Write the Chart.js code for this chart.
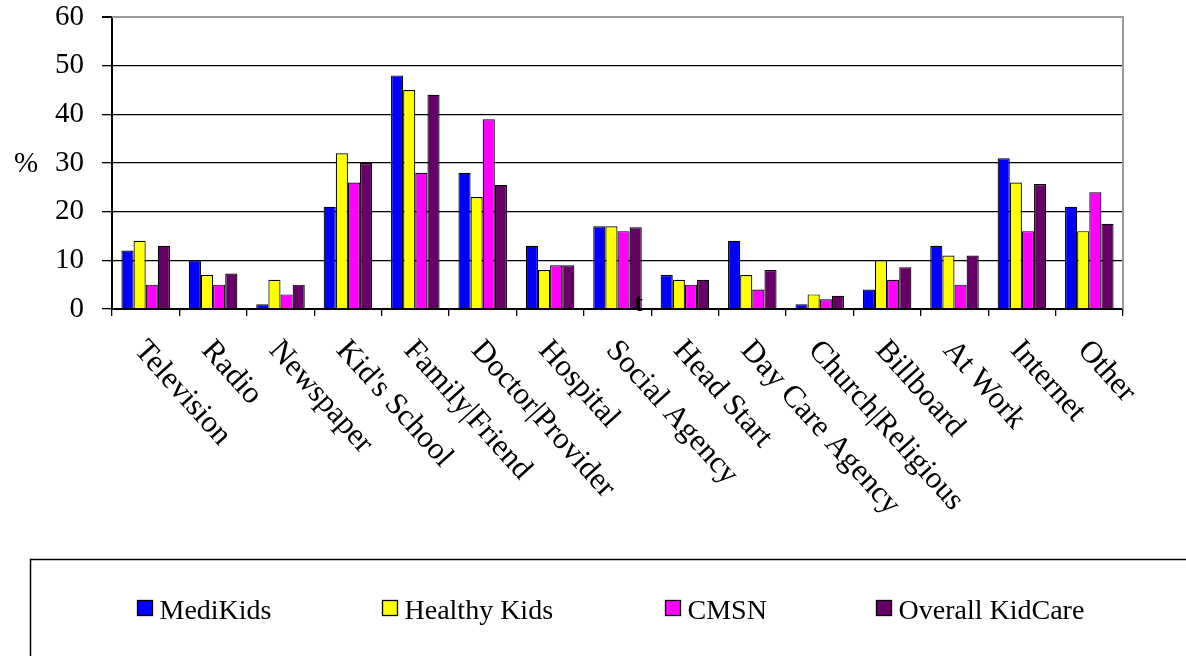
<!DOCTYPE html>
<html>
<head>
<meta charset="utf-8">
<script src="https://cdn.jsdelivr.net/npm/chart.js@4.4.1/dist/chart.umd.min.js"></script>
<style>
  body { margin: 0; background: #fff; }
  #wrap { width: 1186px; height: 656px; }
</style>
</head>
<body>
<div id="wrap"><canvas id="kidcare"></canvas></div>
<script>
const categories = ['Television', 'Radio', 'Newspaper', "Kid's School", 'Family|Friend', 'Doctor|Provider',
    'Hospital', 'Social Agency', 'Head Start', 'Day Care Agency', 'Church|Religious', 'Billboard',
    'At Work', 'Internet', 'Other'];

const mediKids     = [12, 10, 1, 21, 48, 28, 13, 17, 7, 14, 1, 4, 13, 31, 21];
const healthyKids  = [14, 7, 6, 32, 45, 23, 8, 17, 6, 7, 3, 10, 11, 26, 16];
const cmsn         = [5, 5, 3, 26, 28, 39, 9, 16, 5, 4, 2, 6, 5, 16, 24];
const overall      = [13, 7.3, 5, 30, 44, 25.5, 9, 16.8, 6, 8, 2.7, 8.6, 11, 25.7, 17.5];

const yTicks = [0, 10, 20, 30, 40, 50, 60];

const serif = "'Times New Roman', 'Liberation Serif', serif";

// rotated category labels, %, right border, legend box
const decorations = {
    id: 'decorations',
    afterDraw(chart) {
        const ctx = chart.ctx;
        const area = chart.chartArea;
        const xs = chart.scales.x;

        ctx.save();
        // right + top plot border in gray
        ctx.strokeStyle = '#999';
        ctx.lineWidth = 2;
        ctx.beginPath();
        ctx.moveTo(area.left, area.top);
        ctx.lineTo(area.right, area.top);
        ctx.lineTo(area.right, area.bottom);
        ctx.stroke();

        // % axis label
        ctx.fillStyle = '#000';
        ctx.font = '29px ' + serif;
        ctx.textAlign = 'center';
        ctx.textBaseline = 'middle';
        ctx.fillText('%', 26, 164);

        // stray mark near Social Agency
        ctx.font = 'bold 26px ' + serif;
        ctx.textBaseline = 'alphabetic';
        ctx.fillText('t', xs.getPixelForValue(7) + 21, area.bottom + 2);

        // x labels rotated clockwise
        ctx.font = '31px ' + serif;
        ctx.textAlign = 'left';
        ctx.textBaseline = 'top';
        categories.forEach((lab, i) => {
            ctx.save();
            ctx.translate(xs.getPixelForValue(i) + 5, area.bottom + 26);
            ctx.rotate(48 * Math.PI / 180);
            ctx.fillText(lab, 0, 0);
            ctx.restore();
        });

        // legend
        ctx.strokeStyle = '#000';
        ctx.lineWidth = 1.5;
        ctx.strokeRect(30.5, 559.5, 1300, 200);
        const itemX = [137, 382, 665, 876];
        ctx.font = '28px ' + serif;
        ctx.textBaseline = 'alphabetic';
        chart.data.datasets.forEach((ds, i) => {
            const x = itemX[i];
            ctx.fillStyle = ds.backgroundColor;
            ctx.fillRect(x, 600, 15, 15);
            ctx.lineWidth = 1.3;
            ctx.strokeRect(x + 0.5, 600.5, 15, 15);
            ctx.fillStyle = '#000';
            ctx.fillText(ds.label, x + 22.5, 619);
        });
        ctx.restore();
    }
};

const ctx = document.getElementById('kidcare').getContext('2d');
const chart = new Chart(ctx, {
    type: 'bar',
    data: {
        labels: categories,
        datasets: [
            { label: 'MediKids', data: mediKids, backgroundColor: '#0000ff' },
            { label: 'Healthy Kids', data: healthyKids, backgroundColor: '#ffff00' },
            { label: 'CMSN', data: cmsn, backgroundColor: '#ff00ff' },
            { label: 'Overall KidCare', data: overall, backgroundColor: '#660066' }
        ].map(d => Object.assign(d, {
            borderColor: '#000',
            borderWidth: 1.2,
            categoryPercentage: 0.72,
            barPercentage: 1
        }))
    },
    options: {
        responsive: true,
        maintainAspectRatio: false,
        animation: false,
        layout: { padding: { top: 17, right: 63, left: 0, bottom: 0 } },
        plugins: {
            legend: { display: false },
            tooltip: { enabled: false }
        },
        scales: {
            x: {
                grid: { drawOnChartArea: false, drawTicks: true, tickLength: 7, tickColor: '#000', lineWidth: 1.3 },
                border: { color: '#000', width: 2 },
                ticks: { display: false },
                afterFit(scale) { scale.height = 347; }
            },
            y: {
                min: 0,
                max: 60,
                afterBuildTicks(scale) { scale.ticks = yTicks.map(v => ({ value: v })); },
                grid: {
                    color: c => c.tick && c.tick.value === 60 ? '#999' : '#000',
                    lineWidth: c => c.tick && c.tick.value === 60 ? 2 : 1.3,
                    tickLength: 10,
                    tickColor: '#000'
                },
                border: { color: '#000', width: 2 },
                ticks: {
                    color: '#000',
                    padding: 18,
                    font: { family: serif, size: 29 }
                },
                afterFit(scale) {
                    scale.width = 112;
                    scale.paddingTop = 0;
                    scale.paddingBottom = 0;
                }
            }
        }
    },
    plugins: [decorations]
});
</script>
</body>
</html>
